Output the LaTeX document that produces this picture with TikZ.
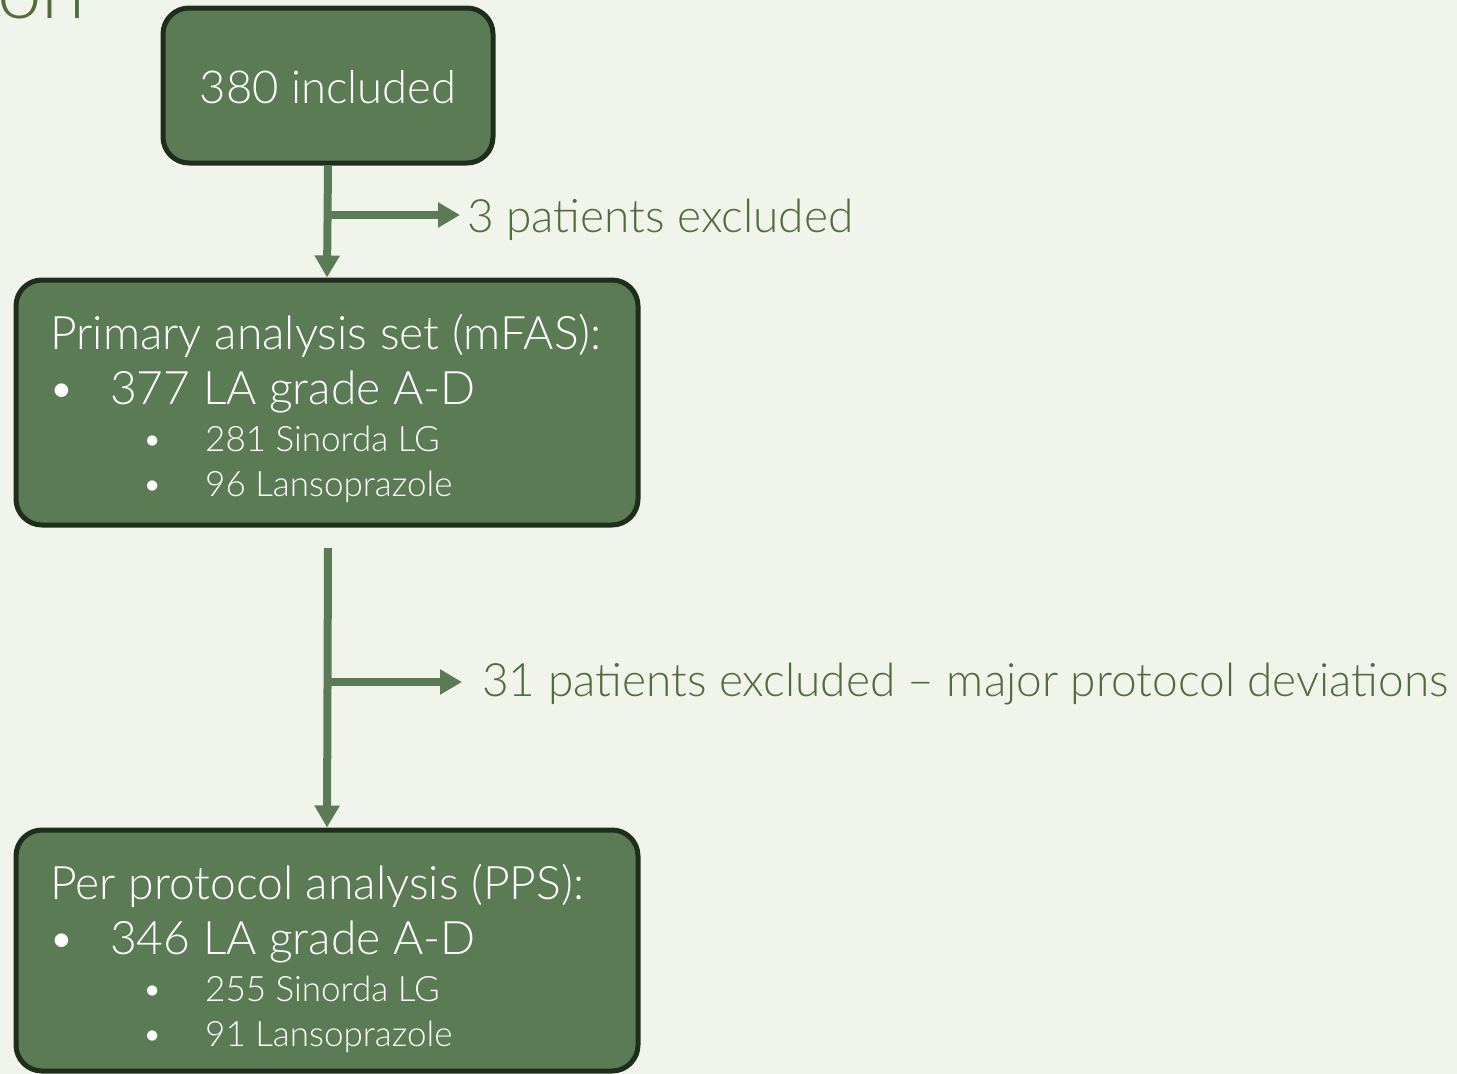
\documentclass[tikz,border=0pt]{standalone}
\usepackage{fontspec}
\setmainfont{Lato Light}
\usetikzlibrary{arrows.meta}
\definecolor{bgc}{HTML}{F1F4EA}
\definecolor{boxfill}{HTML}{5B7B55}
\definecolor{boxline}{HTML}{1F2E1C}
\definecolor{labc}{HTML}{506B3C}
\tikzset{
  box/.style={draw=boxline, line width=5pt, fill=boxfill, rounded corners=26pt, inner sep=0pt},
  arr/.style={draw=boxfill, line width=8pt, -{Triangle[width=24pt,length=22pt]}},
  txt/.style={text=white, inner sep=0pt, anchor=base west, font=\fontsize{46.2}{54}\selectfont},
  subtxt/.style={text=white, inner sep=0pt, anchor=base west, font=\fontsize{35}{42}\selectfont},
  lab/.style={text=labc, inner sep=0pt, anchor=base west, font=\fontsize{46}{54}\selectfont},
}
\begin{document}
\begin{tikzpicture}[x=1pt,y=-1pt]
\useasboundingbox (0,0) rectangle (1457,1074);
\fill[bgc] (0,0) rectangle (1457,1074);
\node[text=labc, inner sep=0pt, anchor=base west, font=\fontsize{80}{84}\selectfont] (title) at (-3,18) {on};
% boxes
\node[box, minimum width=330pt, minimum height=155pt] (b1) at (328,85.5) {};
\node[text=white, inner sep=0pt, font=\fontsize{45.4}{54}\selectfont] (t1) at (328,87) {380 included};
\node[box, minimum width=622pt, minimum height=245pt] (b2) at (327,402.5) {};
\node[txt] (t2a) at (50,349) {Primary analysis set (mFAS):};
\node[txt] (t2bb) at (48,404) {•};
\node[txt] (t2b) at (110,404) {377 LA grade A-D};
\node[subtxt] (t2cb) at (142,451) {•};
\node[subtxt] (t2c) at (205,451) {281 Sinorda LG};
\node[subtxt] (t2db) at (142,496) {•};
\node[subtxt] (t2d) at (205,496) {96 Lansoprazole};
\node[box, minimum width=622pt, minimum height=241pt] (b3) at (327,950.5) {};
\node[txt] (t3a) at (50,899) {Per protocol analysis (PPS):};
\node[txt] (t3bb) at (48,954) {•};
\node[txt] (t3b) at (110,954) {346 LA grade A-D};
\node[subtxt] (t3cb) at (142,1001) {•};
\node[subtxt] (t3c) at (205,1001) {255 Sinorda LG};
\node[subtxt] (t3db) at (142,1046) {•};
\node[subtxt] (t3d) at (205,1046) {91 Lansoprazole};
% connectors
\draw[arr] (b1.south) -- (b2.north);
\coordinate (j1) at (328,215);
\node[lab] (l1) at (467,232) {3 patients excluded};
\draw[arr, shorten >=7pt] (j1) -- (j1 -| l1.west);
\coordinate (s2) at (328,548);
\draw[arr] (s2) -- (b3.north);
\coordinate (j2) at (328,682);
\node[lab] (l2) at (482,696) {31 patients excluded – major protocol deviations};
\draw[arr, shorten >=20pt] (j2) -- (j2 -| l2.west);
\end{tikzpicture}
\end{document}
